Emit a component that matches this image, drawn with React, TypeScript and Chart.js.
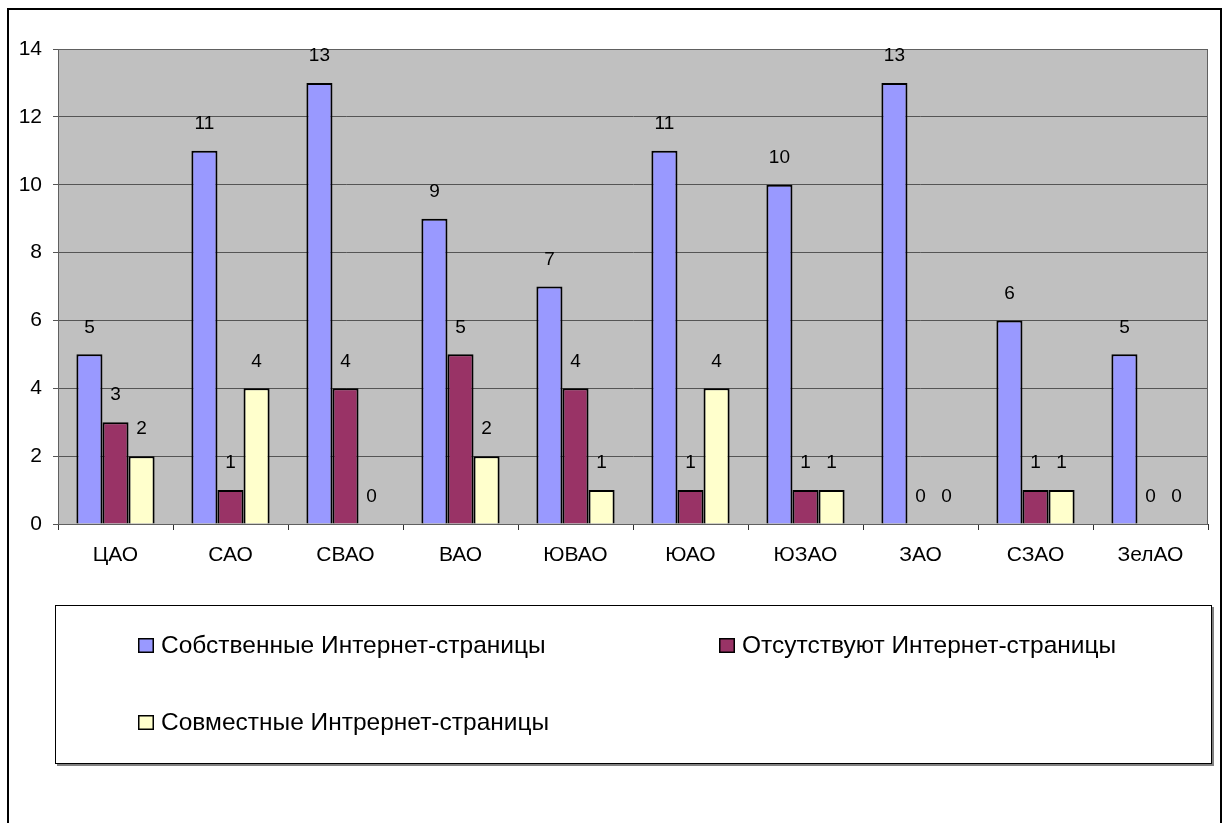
import React, { useEffect, useRef } from "react";
import { Chart, registerables } from "chart.js";

Chart.register(...registerables);

const categories = ["ЦАО", "САО", "СВАО", "ВАО", "ЮВАО", "ЮАО", "ЮЗАО", "ЗАО", "СЗАО", "ЗелАО"];
const ownPages = [5, 11, 13, 9, 7, 11, 10, 13, 6, 5];
const noPages = [3, 1, 4, 5, 4, 1, 1, 0, 1, 0];
const sharedPages = [2, 4, 0, 2, 1, 4, 1, 0, 1, 0];
const seriesNames = [
  "Собственные Интернет-страницы",
  "Отсутствуют Интернет-страницы",
  "Совместные Интрернет-страницы",
];
const seriesColors = ["#9999ff", "#993366", "#ffffcc"];
const yTicks = [0, 2, 4, 6, 8, 10, 12, 14];

const FONT = "'Liberation Sans', Arial, sans-serif";

const decorPlugin = {
  id: "decor",
  beforeDraw(chart: any) {
    const ctx = chart.ctx;
    const { left, top, right, bottom } = chart.chartArea;
    ctx.save();
    ctx.fillStyle = "#ffffff";
    ctx.fillRect(0, 0, chart.width, chart.height);
    ctx.strokeStyle = "#000000";
    ctx.lineWidth = 2;
    ctx.strokeRect(8, 9, 1213, 900);
    ctx.fillStyle = "#c0c0c0";
    ctx.fillRect(left, top, right - left, bottom - top);
    ctx.restore();
  },
  afterDatasetsDraw(chart: any) {
    const ctx = chart.ctx;
    const { left, top, right, bottom } = chart.chartArea;
    ctx.save();
    ctx.strokeStyle = "#606060";
    ctx.lineWidth = 1;
    ctx.strokeRect(left + 0.5, top + 0.5, right - left - 1, bottom - top);
    ctx.font = `19px ${FONT}`;
    ctx.fillStyle = "#000";
    ctx.textAlign = "center";
    ctx.textBaseline = "middle";
    chart.data.datasets.forEach((ds: any, i: number) => {
      const meta = chart.getDatasetMeta(i);
      meta.data.forEach((bar: any, j: number) => {
        ctx.fillText(String(ds.data[j]), bar.x, bar.y - 27);
      });
    });
    ctx.restore();
  },
  afterDraw(chart: any) {
    const ctx = chart.ctx;
    ctx.save();
    // legend box with shadow
    const bx = 55, by = 605, bw = 1157, bh = 159;
    ctx.fillStyle = "#808080";
    ctx.fillRect(bx + 2, by + 2, bw, bh);
    ctx.fillStyle = "#ffffff";
    ctx.fillRect(bx, by, bw, bh);
    ctx.strokeStyle = "#000";
    ctx.lineWidth = 1;
    ctx.strokeRect(bx + 0.5, by + 0.5, bw - 1, bh - 1);
    const pos = [
      { x: 138, y: 645 },
      { x: 719, y: 645 },
      { x: 138, y: 722 },
    ];
    ctx.font = `24.5px ${FONT}`;
    ctx.textAlign = "left";
    ctx.textBaseline = "middle";
    chart.data.datasets.forEach((ds: any, i: number) => {
      const p = pos[i];
      ctx.fillStyle = ds.backgroundColor;
      ctx.fillRect(p.x, p.y - 7, 16, 15);
      ctx.strokeStyle = "#000";
      ctx.lineWidth = 1.5;
      ctx.strokeRect(p.x + 0.75, p.y - 6.25, 14.5, 13.5);
      ctx.fillStyle = "#000";
      ctx.fillText(ds.label, p.x + 23, p.y + 1);
    });
    ctx.restore();
  },
};

export default function App() {
  const ref = useRef<HTMLCanvasElement>(null);
  useEffect(() => {
    if (!ref.current) return;
    const data = [ownPages, noPages, sharedPages];
    const chart = new Chart(ref.current, {
      type: "bar",
      data: {
        labels: categories,
        datasets: data.map((d, i) => ({
          label: seriesNames[i],
          data: d,
          backgroundColor: seriesColors[i],
          borderColor: "#000000",
          borderWidth: 2,
          categoryPercentage: 0.68,
          barPercentage: 1.0,
        })),
      },
      options: {
        responsive: false,
        animation: false,
        layout: { padding: { left: 0, top: 49, right: 16, bottom: 0 } },
        plugins: { legend: { display: false }, tooltip: { enabled: false } },
        scales: {
          x: {
            afterFit: (s: any) => { s.height = 299; },
            grid: { offset: true, drawOnChartArea: false, tickLength: 6, color: "#303030" },
            border: { color: "#303030" },
            ticks: { font: { size: 21, family: FONT }, color: "#000", padding: 13, maxRotation: 0 },
          },
          y: {
            min: 0,
            max: 14,
            afterFit: (s: any) => { s.width = 58; },
            afterBuildTicks: (s: any) => { s.ticks = yTicks.map((v) => ({ value: v })); },
            grid: { color: "#555555", tickLength: 5 },
            border: { color: "#555555" },
            ticks: { font: { size: 21, family: FONT }, color: "#000", padding: 11 },
          },
        },
      },
      plugins: [decorPlugin],
    });
    return () => chart.destroy();
  }, []);
  return (
    <div style={{ position: "absolute", left: 0, top: 0, width: 1224, height: 823 }}>
      <canvas ref={ref} width={1224} height={823} style={{ width: 1224, height: 823 }} />
    </div>
  );
}
